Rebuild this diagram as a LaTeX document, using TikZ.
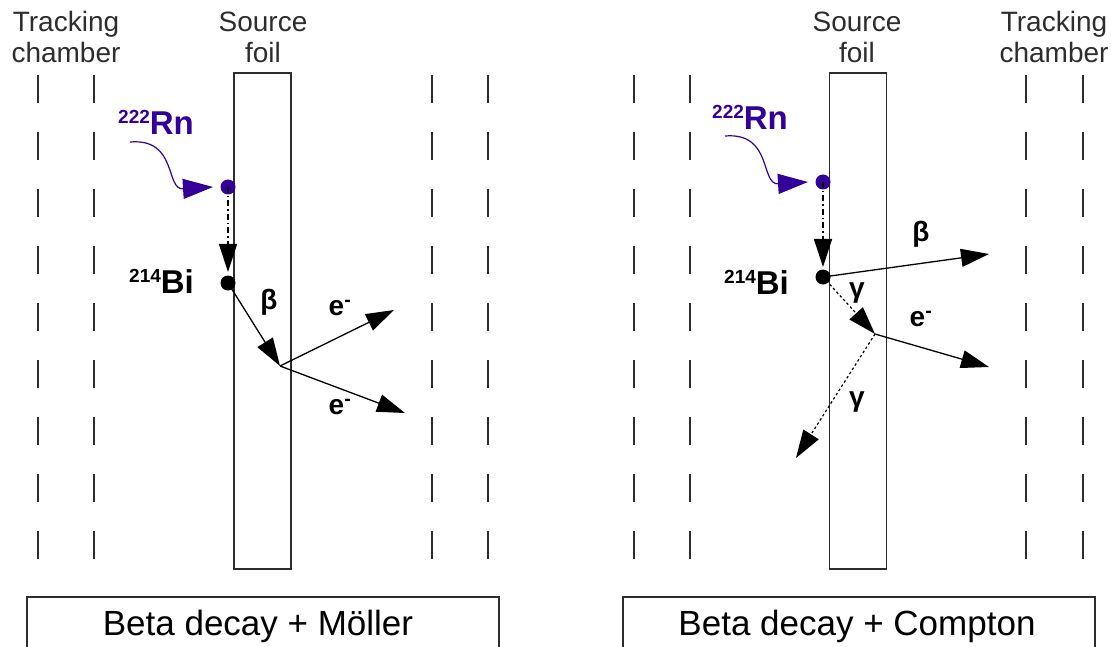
\documentclass[tikz,border=0pt]{standalone}
\usepackage{fontspec}
\setmainfont{Liberation Sans}
\usetikzlibrary{arrows.meta}
\definecolor{rn}{RGB}{51,0,153}
\definecolor{ln}{RGB}{45,45,45}
\newcommand{\isot}[1]{{\fontsize{19}{20}\selectfont\raisebox{11pt}{#1}}}
\begin{document}
\begin{tikzpicture}[x=1pt,y=-1pt,
  chamber/.style={draw=ln,line width=1.2pt,dash pattern=on 28pt off 29pt},
  foil/.style={draw=ln,line width=1.3pt,minimum width=57pt,minimum height=496pt,inner sep=0pt},
  title/.style={text=ln,font=\fontsize{28}{31}\selectfont,anchor=base,inner sep=0pt},
  caption/.style={font=\fontsize{35}{40}\selectfont,anchor=base,inner sep=0pt},
  nuc/.style={font=\bfseries\fontsize{33}{36}\selectfont,anchor=base west,inner sep=0pt},
  dot/.style={circle,fill,inner sep=0pt,minimum size=15pt},
  plabel/.style={font=\bfseries\fontsize{28}{32}\selectfont,inner sep=0pt},
  tip/.style={-{Triangle[length=28pt,width=18pt]}},
  particle/.style={tip,line width=1.3pt},
  decay/.style={tip,line width=1.3pt,dash pattern=on 6pt off 3pt on 1.5pt off 3pt},
  photon/.style={tip,line width=1.2pt,dash pattern=on 2.5pt off 2.5pt},
  radon/.style={draw=rn,line width=1.2pt,-{Triangle[length=30pt,width=20pt]}}]
\useasboundingbox (0,0) rectangle (1111,647);

% tracking chamber wires
\foreach \x in {38,94,432,488,634,690,1026,1083}
  \draw[chamber] (\x,75) -- (\x,559);

% headings
\node[title] (tcL1) at (66,32) {Tracking};
\node[title] (tcL2) at (66,63) {chamber};
\node[title] (sfL1) at (263,32) {Source};
\node[title] (sfL2) at (263,63) {foil};
\node[title] (sfR1) at (857,32) {Source};
\node[title] (sfR2) at (857,63) {foil};
\node[title] (tcR1) at (1054,32) {Tracking};
\node[title] (tcR2) at (1054,63) {chamber};

% source foils
\node[foil] (foilL) at (262.5,321) {};
\node[foil] (foilR) at (858,321) {};

% captions
\draw[ln,line width=1.3pt] (27,660) |- (499,597) -- (499,660);
\draw[ln,line width=1.3pt] (623,660) |- (1095,597) -- (1095,660);
\node[caption] (capL) at (258,635) {Beta decay + Möller};
\node[caption] (capR) at (857,635) {Beta decay + Compton};

% ---------- left panel: Moller ----------
\node[nuc,text=rn] (rnL) at (118,135) {\isot{222}Rn};
\coordinate (rnLs) at (130,142);
\node[dot,fill=rn] (rndotL) at (228,187) {};
\coordinate (rntipL) at (213,187);
\draw[radon] (rnLs) .. controls (178,138) and (165,190) .. (rntipL);

\node[dot] (biL) at (228,283) {};
\node[nuc] (bilabL) at (129,293) {\isot{214}Bi};
\coordinate (dtipL) at (228,272);
\draw[decay] (rndotL.center) -- (dtipL);

\coordinate (vL) at (280,366);
\coordinate (e1L) at (394,310);
\coordinate (e2L) at (405,413);
\draw[particle] (biL.center) -- (vL);
\draw[particle] (vL) -- (e1L);
\draw[particle] (vL) -- (e2L);
\node[plabel] (betaL) at (269,302) {β};
\node[plabel] (eaL) at (340,308) {e\textsuperscript{-}};
\node[plabel] (ebL) at (340,407) {e\textsuperscript{-}};

% ---------- right panel: Compton ----------
\node[nuc,text=rn] (rnR) at (712,130) {\isot{222}Rn};
\coordinate (rnRs) at (725,136);
\node[dot,fill=rn] (rndotR) at (823,182) {};
\coordinate (rntipR) at (808,182);
\draw[radon] (rnRs) .. controls (773,132) and (760,185) .. (rntipR);

\node[dot] (biR) at (823,277) {};
\node[nuc] (bilabR) at (724,294) {\isot{214}Bi};
\coordinate (dtipR) at (823,267);
\draw[decay] (rndotR.center) -- (dtipR);

\coordinate (betatipR) at (989,254);
\coordinate (vR) at (875,334);
\coordinate (etipR) at (989,367);
\coordinate (gtipR) at (796,458);
\draw[particle] (biR.center) -- (betatipR);
\draw[photon] (biR.center) -- (vR);
\draw[particle] (vR) -- (etipR);
\draw[photon] (vR) -- (gtipR);
\node[plabel] (betaR) at (921,234) {β};
\node[plabel] (g1R) at (857,293) {γ};
\node[plabel] (eR) at (921,319) {e\textsuperscript{-}};
\node[plabel] (g2R) at (857,402) {γ};
\end{tikzpicture}
\end{document}
